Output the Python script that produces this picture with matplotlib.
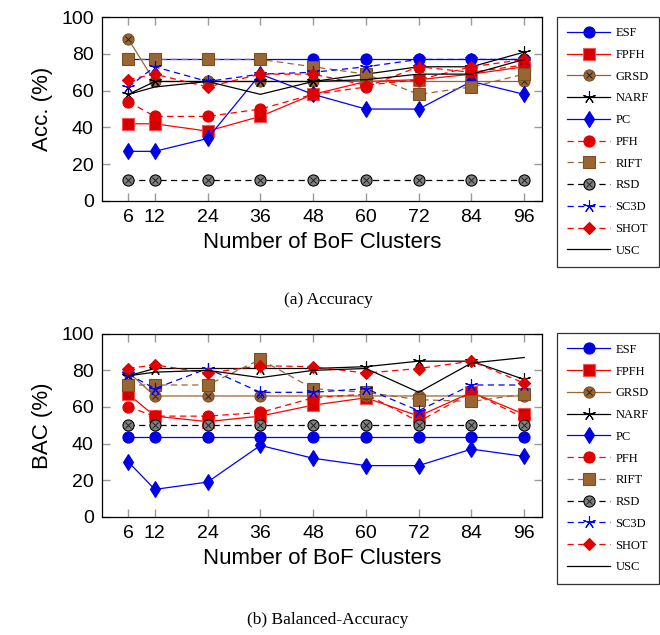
import numpy as np
import matplotlib
matplotlib.use('Agg')
import matplotlib.pyplot as plt

clusters = [6, 12, 24, 36, 48, 60, 72, 84, 96]
methods = ['ESF', 'FPFH', 'GRSD', 'NARF', 'PC', 'PFH', 'RIFT', 'RSD', 'SC3D', 'SHOT', 'USC']

# accuracy (%)
acc_esf = [77, 77, 77, 77, 77, 77, 77, 77, 77]
acc_fpfh = [42, 42, 38, 46, 58, 65, 66, 69, 73]
acc_grsd = [88, 65, 65, 65, 65, 65, 65, 65, 65]
acc_narf = [58, 65, 65, 65, 65, 69, 73, 73, 81]
acc_pc = [27, 27, 34, 69, 58, 50, 50, 65, 58]
acc_pfh = [54, 46, 46, 50, 58, 62, 73, 70, 74]
acc_rift = [77, 77, 77, 77, 73, 69, 58, 62, 69]
acc_rsd = [11.5, 11.5, 11.5, 11.5, 11.5, 11.5, 11.5, 11.5, 11.5]
acc_sc3d = [62, 73, 65, 69, 70, 73, 77, 77, 77]
acc_shot = [66, 69, 62, 69, 69, 63, 66, 73, 77]
acc_usc = [58, 62, 65, 58, 65, 66, 69, 69, 77]

# balanced accuracy (%)
bac_esf = [43.5, 43.5, 43.5, 43.5, 43.5, 43.5, 43.5, 43.5, 43.5]
bac_fpfh = [67, 55, 52, 55, 61, 65, 55, 68, 56]
bac_grsd = [79, 66, 66, 66, 66, 66, 66, 66, 66]
bac_narf = [77, 81, 81, 81, 81, 82, 85, 85, 75]
bac_pc = [30, 15, 19, 39, 32, 28, 28, 37, 33]
bac_pfh = [60, 55, 55, 57, 65, 67, 52, 68, 54]
bac_rift = [72, 72, 72, 86, 70, 68, 64, 63, 67]
bac_rsd = [50, 50, 50, 50, 50, 50, 50, 50, 50]
bac_sc3d = [78, 70, 81, 68, 68, 70, 58, 72, 72]
bac_shot = [81, 83, 78.5, 82.5, 82, 78.5, 81, 85, 73]
bac_usc = [77, 79, 80, 76, 80, 81, 68, 84, 87]

acc = [acc_esf, acc_fpfh, acc_grsd, acc_narf, acc_pc, acc_pfh, acc_rift, acc_rsd, acc_sc3d, acc_shot, acc_usc]
bac = [bac_esf, bac_fpfh, bac_grsd, bac_narf, bac_pc, bac_pfh, bac_rift, bac_rsd, bac_sc3d, bac_shot, bac_usc]

BLUE = '#0000ff'
RED = '#ff0000'
BROWN = '#996633'
star5 = (5, 2, 0)

# (color, linestyle, marker, markerfacecolor, markeredgecolor, markersize, cross)
styles = [
    (BLUE, '-', 'o', '#0000e6', '#0000e6', 8, False),
    (RED, '-', 's', '#d40000', '#ff5050', 8, False),
    (BROWN, '-', 'o', BROWN, '#7a4f26', 8, True),
    ('black', '-', star5, 'black', 'black', 9, False),
    (BLUE, '-', 'd', '#0000e6', '#0000e6', 8, False),
    (RED, '--', 'o', '#e00000', '#e00000', 8, False),
    (BROWN, '--', 's', BROWN, '#7a4f26', 8, False),
    ('black', '--', 'o', '#808080', 'black', 8, True),
    (BLUE, '--', star5, BLUE, BLUE, 9, False),
    (RED, '--', 'D', '#e00000', '#e00000', 6.5, False),
    ('black', '-', None, 'black', 'black', 0, False),
]

serif = ['Liberation Serif', 'DejaVu Serif']
sans = ['Liberation Sans', 'DejaVu Sans']

fig = plt.figure(figsize=(6.6, 6.35), dpi=100)
ax1 = fig.add_axes([0.1545, 0.6835, 0.6665, 0.2895])
ax2 = fig.add_axes([0.1545, 0.186, 0.6665, 0.2885])


def draw(ax, data, ylabel):
    handles = []
    for vals, st in zip(data, styles):
        color, ls, mk, mfc, mec, ms, cross = st
        ln, = ax.plot(clusters, vals, color=color, linestyle=ls, linewidth=0.9,
                      marker=mk, markerfacecolor=mfc, markeredgecolor=mec,
                      markersize=ms, markeredgewidth=0.8, dashes=(5, 3.5) if ls == '--' else (None, None))
        if cross:
            cx, = ax.plot(clusters, vals, linestyle='none', marker='x',
                          markersize=ms * 0.55, markeredgecolor='#222222',
                          markeredgewidth=0.7)
            handles.append((ln, cx))
        else:
            handles.append(ln)
    ax.set_xlim(0, 100)
    ax.set_ylim(0, 100)
    ax.set_xticks(clusters)
    ax.set_yticks(np.arange(0, 101, 20))
    ax.tick_params(direction='in', length=6, width=1, color='#999999',
                   top=True, right=True, labelsize=14, pad=6)
    for lab in ax.get_xticklabels() + ax.get_yticklabels():
        lab.set_family(sans)
    for sp in ax.spines.values():
        sp.set_linewidth(0.9)
    ax.set_xlabel('Number of BoF Clusters', fontsize=16, family=sans, labelpad=4)
    ax.set_ylabel(ylabel, fontsize=16, family=sans, labelpad=6)
    leg = ax.legend(handles, methods, loc='upper left', bbox_to_anchor=(1.034, 1.003),
                    prop={'family': serif, 'size': 9}, frameon=True, fancybox=False,
                    edgecolor='black', handlelength=3.4, labelspacing=0.78,
                    borderpad=0.85, handletextpad=0.45, borderaxespad=0)
    leg.get_frame().set_linewidth(0.9)


draw(ax1, acc, 'Acc. (%)')
draw(ax2, bac, 'BAC (%)')

fig.text(0.497, 0.527, '(a) Accuracy', ha='center', va='center', family=serif, fontsize=12.5)
fig.text(0.497, 0.024, '(b) Balanced-Accuracy', ha='center', va='center', family=serif, fontsize=12.5)

fig.savefig('out.png', dpi=100)
